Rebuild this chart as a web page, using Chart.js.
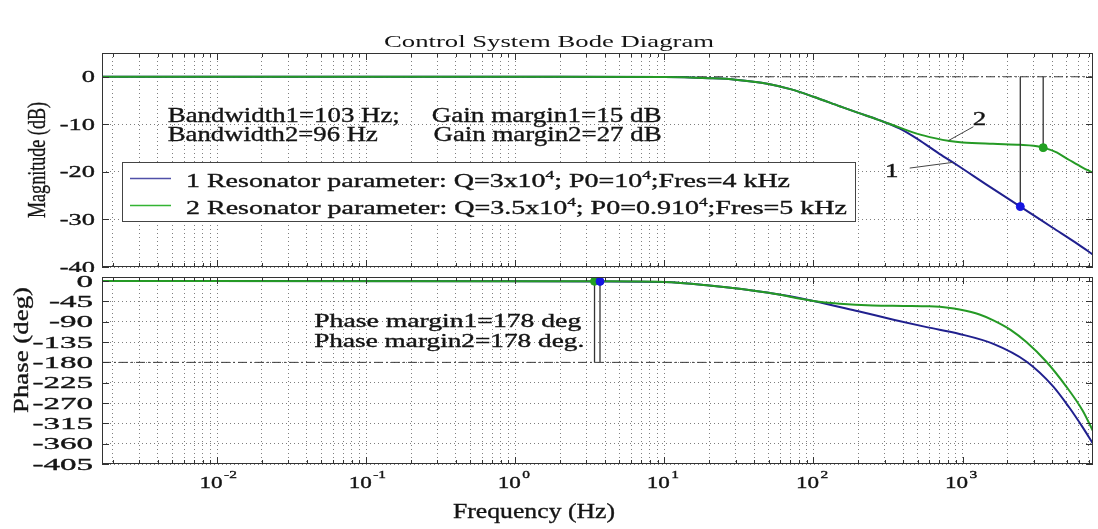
<!DOCTYPE html>
<html>
<head>
<meta charset="utf-8">
<script src="https://cdn.jsdelivr.net/npm/chart.js@4.4.1/dist/chart.umd.min.js"></script>
<style>
  html, body { margin: 0; padding: 0; background: #fff; }
  #wrap { position: relative; width: 1098px; height: 529px; overflow: hidden; }
  .pane { position: absolute; left: 0; }
</style>
</head>
<body>
<div id="wrap">
  <div class="pane" style="top:0"><canvas id="mag" width="1098" height="272"></canvas></div>
  <div class="pane" style="top:272px"><canvas id="phase" width="1098" height="257"></canvas></div>
</div>
<script>
/* ── axis ranges & ticks ── */
const FREQ_MIN = 0.00169, FREQ_MAX = 7500;
const MAG_MIN = -40, MAG_MAX = 5;
const PHASE_MIN = -405, PHASE_MAX = 9;
const magTicks   = [0, -10, -20, -30, -40];
const phaseTicks = [0, -45, -90, -135, -180, -225, -270, -315, -360, -405];
const decadeExp  = [-2, -1, 0, 1, 2, 3];

/* ── magnitude curves (Hz, dB) ── */
const mag1Freq = [0.00169, 1, 10, 20, 30, 50, 70, 100, 150, 200, 270, 380, 500, 700, 912, 1500, 2440, 4000, 6000, 7500];
const mag1Db   = [0, 0, -0.05, -0.3, -0.6, -1.5, -2.6, -4.2, -6.2, -7.6, -9.0, -10.9, -13.1, -16.2, -18.5, -23.0, -27.3, -31.7, -35.3, -37.4];
const mag2Freq = [0.00169, 1, 10, 20, 30, 50, 70, 100, 150, 200, 270, 380, 500, 650, 820, 1000, 1600, 2440, 3000, 3475, 4200, 5200, 6300, 7500];
const mag2Db   = [0, 0, -0.05, -0.3, -0.6, -1.5, -2.6, -4.2, -6.2, -7.6, -9.0, -10.7, -12.0, -12.9, -13.5, -13.8, -14.1, -14.3, -14.5, -14.9, -15.8, -17.5, -19.0, -20.2];

/* ── phase curves (Hz, deg) ── */
const ph1Freq = [0.00169, 1, 3.7, 10, 20, 50, 100, 200, 350, 575, 955, 1610, 2680, 4050, 5200, 6400, 7500];
const ph1Deg  = [0, -0.2, -0.7, -2, -10, -26, -44, -67, -86, -102, -117, -139, -178, -233, -280, -324, -360];
const ph2Freq = [0.00169, 1, 3.4, 10, 20, 50, 100, 150, 250, 400, 600, 800, 955, 1300, 1610, 2100, 2680, 3640, 4950, 6400, 7500];
const ph2Deg  = [0, -0.2, -0.6, -2, -10, -26, -44, -50, -54, -55, -56, -59, -63, -74, -87, -108, -135, -178, -233, -287, -332];

/* ── margin markers: [blue, green] ── */
const gmFreq = [2440, 3475];
const gmDb   = [-27.3, -14.9];
const pmFreq = [3.7, 3.4];
const pmDeg  = [-0.7, -0.6];

/* ── grid positions on the log axis ── */
const gridFreqs = [];
for (let e = -3; e <= 3; e++) {
  for (let m = 1; m <= 9; m++) {
    const v = m * Math.pow(10, e);
    if (v >= FREQ_MIN && v <= FREQ_MAX) gridFreqs.push(v);
  }
}
const isDecade = v => Math.abs(Math.log10(v) - Math.round(Math.log10(v))) < 1e-9;

const BLUE = '#20208e', GREEN = '#259a25';
const GRID = 'rgba(0,0,0,0.5)';
const INK = '#141414';
const FONT = '"Liberation Serif", "Times New Roman", serif';
const pts = (xs, ys) => xs.map((x, i) => ({ x, y: ys[i] }));

/* ── text helpers (text is stretched to the measured width) ── */
let heavy = 0.35;
function ink(ctx, str, x, y) {
  ctx.fillText(str, x, y);
  if (!heavy) return;
  ctx.lineWidth = heavy;
  ctx.strokeStyle = INK;
  ctx.strokeText(str, x, y);
}
function fitText(ctx, str, x, y, px, width, align) {
  ctx.save();
  ctx.font = px + 'px ' + FONT;
  const sx = width / ctx.measureText(str).width;
  let left = x;
  if (align === 'center') left = x - width / 2;
  else if (align === 'right') left = x - width;
  ctx.translate(left, y);
  ctx.scale(sx, 1);
  ctx.textAlign = 'left';
  ctx.textBaseline = 'alphabetic';
  ink(ctx, str, 0, 0);
  ctx.restore();
}
function scaledText(ctx, str, x, y, px, sx, align) {
  ctx.save();
  ctx.font = px + 'px ' + FONT;
  const w = ctx.measureText(str).width * sx;
  let left = x;
  if (align === 'center') left = x - w / 2;
  else if (align === 'right') left = x - w;
  ctx.translate(left, y);
  ctx.scale(sx, 1);
  ctx.textBaseline = 'alphabetic';
  ink(ctx, str, 0, 0);
  ctx.restore();
}
function richText(ctx, segs, x, y, px, width) {
  ctx.save();
  const f = sup => (sup ? px * 0.62 : px) + 'px ' + FONT;
  let w0 = 0;
  for (const [t, sup] of segs) { ctx.font = f(sup); w0 += ctx.measureText(t).width; }
  ctx.translate(x, y);
  ctx.scale(width / w0, 1);
  let cx = 0;
  for (const [t, sup] of segs) {
    ctx.font = f(sup);
    ink(ctx, t, cx, sup ? -px * 0.42 : 0);
    cx += ctx.measureText(t).width;
  }
  ctx.restore();
}
function rotText(ctx, str, cx, cy, px, len) {
  ctx.save();
  ctx.font = px + 'px ' + FONT;
  const w0 = ctx.measureText(str).width;
  ctx.translate(cx, cy);
  ctx.rotate(-Math.PI / 2);
  ctx.scale(len / w0, 1);
  ctx.textAlign = 'center';
  ctx.textBaseline = 'middle';
  ink(ctx, str, 0, 0);
  ctx.restore();
}

/* ── box + inward ticks (MATLAB style) ── */
function drawFrame(chart, yVals) {
  const { ctx, chartArea: a, scales: { x, y } } = chart;
  ctx.save();
  ctx.strokeStyle = '#333';
  ctx.lineWidth = 1;
  ctx.beginPath();
  for (const v of gridFreqs) {
    const px = Math.round(x.getPixelForValue(v)) + 0.5;
    const len = isDecade(v) ? 7 : 4;
    ctx.moveTo(px, a.bottom); ctx.lineTo(px, a.bottom - len);
    ctx.moveTo(px, a.top);    ctx.lineTo(px, a.top + len);
  }
  for (const v of yVals) {
    const py = Math.round(y.getPixelForValue(v)) + 0.5;
    ctx.moveTo(a.left, py);  ctx.lineTo(a.left + 7, py);
    ctx.moveTo(a.right, py); ctx.lineTo(a.right - 7, py);
  }
  ctx.stroke();
  ctx.strokeRect(a.left + 0.5, a.top + 0.5, a.right - a.left - 1, a.bottom - a.top - 1);
  ctx.restore();
}

function xAxis(height) {
  return {
    type: 'logarithmic', min: FREQ_MIN, max: FREQ_MAX,
    afterBuildTicks: s => { s.ticks = gridFreqs.map(v => ({ value: v })); },
    afterFit: s => { s.height = height; },
    ticks: { display: false },
    grid: { color: GRID, lineWidth: 1, drawTicks: false },
    border: { display: false, dash: [1, 3] },
  };
}
function yAxis(min, max, vals) {
  return {
    min, max,
    afterBuildTicks: s => { s.ticks = vals.map(v => ({ value: v })); },
    afterFit: s => { s.width = 102; },
    ticks: { display: false },
    grid: { color: GRID, lineWidth: 1, drawTicks: false },
    border: { display: false, dash: [1, 3] },
  };
}
const curve = (data, color, order) => ({
  data, borderColor: color, borderWidth: 2, pointRadius: 0, showLine: true,
  cubicInterpolationMode: 'monotone', order,
});
const refLine = (data, order) => ({
  data, borderColor: '#3a3a3a', borderWidth: 1, borderDash: [9, 3, 2, 3],
  pointRadius: 0, showLine: true, order,
});
const stem = (data, order) => ({
  data, borderColor: '#333', borderWidth: 1.3, pointRadius: 0, showLine: true, order,
});
const dot = (data, color) => ({
  data, backgroundColor: color, borderColor: color, pointRadius: 4, showLine: false, order: -1,
});

const baseOpts = {
  responsive: false, animation: false, events: [],
  plugins: { legend: { display: false }, tooltip: { enabled: false } },
};

/* ── magnitude chart ── */
const magDecor = {
  id: 'magDecor',
  afterDraw(chart) {
    const { ctx, chartArea: a, scales: { x, y } } = chart;
    drawFrame(chart, magTicks);
    ctx.save();
    ctx.fillStyle = INK;
    // title (regular weight) and axis label
    heavy = 0;
    fitText(ctx, 'Control System Bode Diagram', 549, 47, 16, 330, 'center');
    heavy = 0.35;
    rotText(ctx, 'Magnitude (dB)', 38.5, 160, 26, 116);
    for (const v of magTicks) {
      scaledText(ctx, String(v), a.left - 7, y.getPixelForValue(v) + 5.5, 16.5, 1.6, 'right');
    }
    // margin read-outs
    fitText(ctx, 'Bandwidth1=103 Hz;', x.getPixelForValue(0.00467), y.getPixelForValue(-9.47), 21, 232);
    fitText(ctx, 'Bandwidth2=96 Hz',   x.getPixelForValue(0.00467), y.getPixelForValue(-13.47), 21, 210);
    fitText(ctx, 'Gain margin1=15 dB', x.getPixelForValue(0.275), y.getPixelForValue(-9.47), 21, 230);
    fitText(ctx, 'Gain margin2=27 dB', x.getPixelForValue(0.283), y.getPixelForValue(-13.47), 21, 228);
    // curve labels with leaders
    scaledText(ctx, '1', x.getPixelForValue(335), y.getPixelForValue(-21.05), 18, 1.5, 'center');
    scaledText(ctx, '2', x.getPixelForValue(1300), y.getPixelForValue(-10.1), 18, 1.5, 'center');
    ctx.strokeStyle = '#444';
    ctx.lineWidth = 1;
    ctx.beginPath();
    ctx.moveTo(x.getPixelForValue(442), y.getPixelForValue(-19.2));
    ctx.lineTo(x.getPixelForValue(860), y.getPixelForValue(-18.0));
    ctx.moveTo(x.getPixelForValue(1183), y.getPixelForValue(-10.5));
    ctx.lineTo(x.getPixelForValue(806), y.getPixelForValue(-13.4));
    ctx.stroke();
    // legend box
    ctx.fillStyle = '#fff';
    ctx.fillRect(122, 162, 733, 59);
    ctx.strokeStyle = '#444';
    ctx.strokeRect(122.5, 162.5, 733, 59);
    ctx.lineWidth = 1.3;
    ctx.strokeStyle = '#5050a8';
    ctx.beginPath(); ctx.moveTo(130, 178.5); ctx.lineTo(171, 178.5); ctx.stroke();
    ctx.strokeStyle = '#33b433';
    ctx.beginPath(); ctx.moveTo(130, 205.5); ctx.lineTo(171, 205.5); ctx.stroke();
    ctx.fillStyle = INK;
    richText(ctx, [['1 Resonator parameter: Q=3x10'], ['4', true], ['; P0=10'], ['4', true], [';Fres=4 kHz']], 186, 187, 19.5, 604);
    richText(ctx, [['2 Resonator parameter: Q=3.5x10'], ['4', true], ['; P0=0.910'], ['4', true], [';Fres=5 kHz']], 186, 214, 19.5, 661);
    ctx.restore();
  },
};

new Chart(document.getElementById('mag'), {
  type: 'scatter',
  data: {
    datasets: [
      refLine(pts([FREQ_MIN, FREQ_MAX], [0, 0]), 10),
      stem(pts([gmFreq[0], gmFreq[0]], [0, gmDb[0]]), 0),
      stem(pts([gmFreq[1], gmFreq[1]], [0, gmDb[1]]), 0),
      curve(pts(mag1Freq, mag1Db), BLUE, 3),
      curve(pts(mag2Freq, mag2Db), GREEN, 2),
      dot([{ x: gmFreq[0], y: gmDb[0] }], '#1515e0'),
      dot([{ x: gmFreq[1], y: gmDb[1] }], '#22a022'),
    ],
  },
  options: {
    ...baseOpts,
    layout: { padding: { top: 53, right: 1, left: 0, bottom: 0 } },
    scales: { x: xAxis(5), y: yAxis(MAG_MIN, MAG_MAX, magTicks) },
  },
  plugins: [magDecor],
});

/* ── phase chart ── */
const phaseDecor = {
  id: 'phaseDecor',
  afterDraw(chart) {
    const { ctx, chartArea: a, scales: { x, y } } = chart;
    drawFrame(chart, phaseTicks);
    ctx.save();
    ctx.fillStyle = INK;
    rotText(ctx, 'Phase (deg)', 22, 78, 21, 126);
    for (const v of phaseTicks) {
      scaledText(ctx, String(v), a.left - 9, y.getPixelForValue(v) + 5.5, 16.5, 2.0, 'right');
    }
    // decade labels 10^n
    for (const e of decadeExp) {
      const px = x.getPixelForValue(Math.pow(10, e));
      scaledText(ctx, '10', px - 6, a.bottom + 24, 16.5, 1.4, 'center');
      scaledText(ctx, String(e), px + 7, a.bottom + 14, 11, 1.4, 'left');
    }
    fitText(ctx, 'Frequency (Hz)', 453, 246, 21.6, 162);
    fitText(ctx, 'Phase margin1=178 deg',  x.getPixelForValue(0.0448), y.getPixelForValue(-102.3), 18.5, 267);
    fitText(ctx, 'Phase margin2=178 deg.', x.getPixelForValue(0.0448), y.getPixelForValue(-145.9), 18.5, 270);
    ctx.restore();
  },
};

new Chart(document.getElementById('phase'), {
  type: 'scatter',
  data: {
    datasets: [
      refLine(pts([FREQ_MIN, FREQ_MAX], [-180, -180]), 10),
      stem(pts([pmFreq[0], pmFreq[0]], [-180, pmDeg[0]]), 0),
      stem(pts([pmFreq[1], pmFreq[1]], [-180, pmDeg[1]]), 0),
      curve(pts(ph1Freq, ph1Deg), BLUE, 3),
      curve(pts(ph2Freq, ph2Deg), GREEN, 2),
      dot([{ x: pmFreq[0], y: pmDeg[0] }], '#1515e0'),
      dot([{ x: pmFreq[1], y: pmDeg[1] }], '#22a022'),
    ],
  },
  options: {
    ...baseOpts,
    layout: { padding: { top: 2, right: 1, left: 0, bottom: 0 } },
    scales: { x: xAxis(65), y: yAxis(PHASE_MIN, PHASE_MAX, phaseTicks) },
  },
  plugins: [phaseDecor],
});
</script>
</body>
</html>
